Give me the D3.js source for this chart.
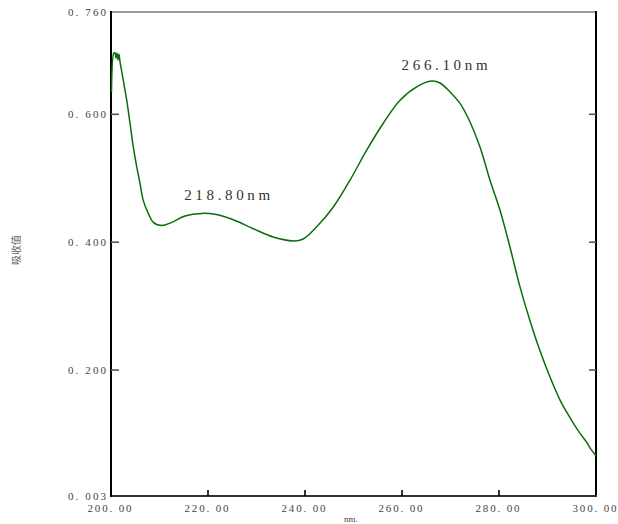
<!DOCTYPE html>
<html><head><meta charset="utf-8">
<script src="https://cdn.jsdelivr.net/npm/d3@7"></script>
<style>html,body{margin:0;padding:0;background:#fff;}svg{display:block;}</style>
</head><body>
<svg id="c" width="618" height="524"></svg>
<script>
const wavelength = [200.1,200.6,200.82,201.03,201.24,201.44,201.65,201.86,202.54,203.24,203.92,204.6,205.3,205.98,206.66,207.69,208.72,210.45,212.52,215.26,218.7,221.44,225.2,229.34,233.46,237.59,239.65,242.41,245.84,249.28,252.72,256.14,259.59,263.03,266.1,267.84,269.9,271.96,274.02,276.08,278.14,280.21,282.27,284.33,286.39,288.45,290.52,292.58,293.96,295.32,296.7,298.08,298.97,300.0];
const absorbance = [0.635,0.696,0.696,0.688,0.696,0.685,0.694,0.682,0.653,0.622,0.586,0.549,0.518,0.492,0.465,0.445,0.431,0.426,0.431,0.441,0.445,0.4435,0.435,0.421,0.408,0.402,0.405,0.424,0.455,0.497,0.544,0.586,0.622,0.643,0.652,0.649,0.635,0.617,0.588,0.549,0.497,0.450,0.392,0.330,0.277,0.230,0.189,0.153,0.134,0.117,0.101,0.087,0.076,0.066];
const xTicks = [200,220,240,260,280,300];
const yTicks = [0.003,0.200,0.400,0.600,0.760];
const peakLabels = ["218.80nm","266.10nm"];
const peakX = [218.8,266.1];
const peakY = [0.445,0.652];
const xTitle = "nm.";
const yTitle = "吸收值";

const svg = d3.select("#c");
const L=111,R=596,T=12,B=496;
const x = d3.scaleLinear().domain([200,300]).range([L,R]);
const y = d3.scaleLinear().domain([0.003,0.760]).range([B,T]);
const font = "'Liberation Serif', 'DejaVu Serif', serif";

// frame
svg.append("line").attr("x1",L).attr("x2",R).attr("y1",T).attr("y2",T).attr("stroke","#7a7a7a").attr("stroke-width",1.6);
svg.append("line").attr("x1",R).attr("x2",R).attr("y1",T-1).attr("y2",B).attr("stroke","#000").attr("stroke-width",2);
svg.append("line").attr("x1",L).attr("x2",R+1).attr("y1",B).attr("y2",B).attr("stroke","#333").attr("stroke-width",2);
svg.append("line").attr("x1",L).attr("x2",L).attr("y1",T-1).attr("y2",B+1).attr("stroke","#000").attr("stroke-width",2);

// y ticks + labels
const yInner = yTicks.filter(v=>v>0.003&&v<0.760);
svg.selectAll(".ytl").data(yInner).join("line").attr("x1",L).attr("x2",L+8).attr("y1",d=>y(d)).attr("y2",d=>y(d)).attr("stroke","#555").attr("stroke-width",1.6);
svg.selectAll(".ytr").data(yInner).join("line").attr("x1",R-7).attr("x2",R).attr("y1",d=>y(d)).attr("y2",d=>y(d)).attr("stroke","#555").attr("stroke-width",1.6);
svg.selectAll(".ylab").data(yTicks).join("text")
  .attr("x",106).attr("y",d=>y(d)+3.5).attr("text-anchor","end")
  .attr("font-family",font).attr("font-size",11).attr("fill","#444")
  .attr("textLength",38).attr("lengthAdjust","spacing")
  .text(d=>d3.format(".3f")(d).replace(".",". "));

// x ticks + labels
const xInner = xTicks.filter(v=>v>200&&v<300);
svg.selectAll(".xt").data(xInner).join("line").attr("x1",d=>x(d)).attr("x2",d=>x(d)).attr("y1",B).attr("y2",B-6).attr("stroke","#000").attr("stroke-width",1.6);
svg.selectAll(".xlab").data(xTicks).join("text")
  .attr("x",d=>x(d)-23.5).attr("y",512)
  .attr("font-family",font).attr("font-size",11).attr("fill","#444")
  .attr("textLength",44).attr("lengthAdjust","spacing")
  .text(d=>d3.format(".2f")(d).replace(".",". "));

svg.append("text").attr("x",351).attr("y",522).attr("text-anchor","middle")
  .attr("font-family",font).attr("font-size",9).attr("fill","#444").text(xTitle);
svg.append("text").attr("transform","translate(20,250) rotate(-90)").attr("text-anchor","middle")
  .attr("font-family","'Noto Sans CJK SC', sans-serif").attr("font-size",10).attr("fill","#666").text(yTitle);

// curve
const line = d3.line().x((d,i)=>x(wavelength[i])).y(d=>y(d)).curve(d3.curveCatmullRom.alpha(0.5));
svg.append("path").datum(absorbance).attr("d",line).attr("fill","none").attr("stroke","#0a6e0a").attr("stroke-width",1.5);

// peak labels
const offs = [[-18,-13],[-30,-11]];
svg.selectAll(".pk").data(peakLabels).join("text")
  .attr("x",(d,i)=>x(peakX[i])+offs[i][0]).attr("y",(d,i)=>y(peakY[i])+offs[i][1])
  .attr("font-family",font).attr("font-size",15).attr("fill","#333")
  .attr("textLength",86).attr("lengthAdjust","spacing")
  .text(d=>d);
</script>
</body></html>
